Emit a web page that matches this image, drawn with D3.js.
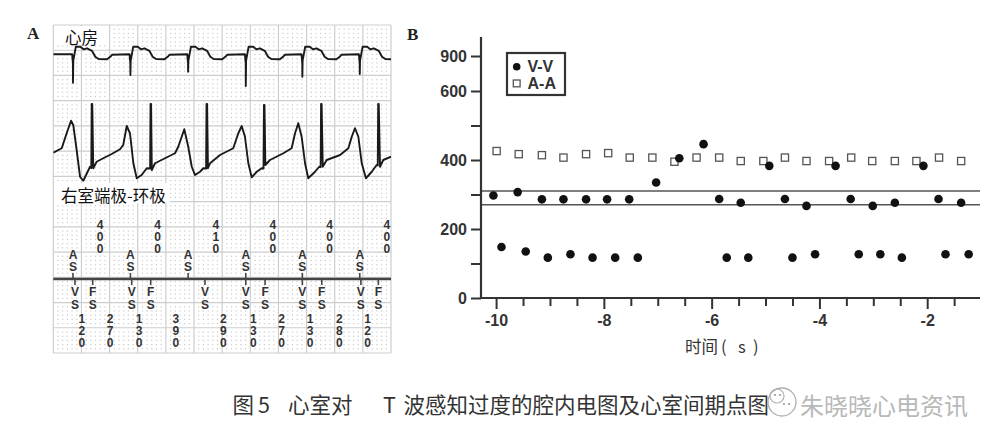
<!DOCTYPE html>
<html><head><meta charset="utf-8">
<script src="https://cdn.jsdelivr.net/npm/d3@7"></script>
<style>body{margin:0;background:#fff} svg{display:block}
.vt{writing-mode:vertical-rl;text-orientation:upright;letter-spacing:-2px}</style>
</head><body>
<svg id="c" width="1000" height="446"></svg>
<script>
// ================= Panel B data =================
const yTickValues = [0, 100, 200, 300, 400, 500, 600, 900];
const yTickLabels = [0, 200, 400, 600, 900];
const xTickLabels = [-10, -8, -6, -4, -2];
const refLines = [310, 270];
const legendLabels = ["V-V", "A-A"];
const axisTitle = ["时间", "(", "s", ")"];

const vvTime = [-10.05, -9.90, -9.60, -9.45, -9.15, -9.04, -8.75, -8.62, -8.33, -8.21, -7.94, -7.79, -7.53, -7.37,
  -7.03, -6.60, -6.15, -5.86, -5.72, -5.46, -5.32, -4.93, -4.64, -4.50, -4.24, -4.08, -3.70, -3.42, -3.27,
  -3.01, -2.87, -2.60, -2.47, -2.07, -1.79, -1.66, -1.37, -1.23];
const vvValue = [297, 148, 307, 135, 286, 117, 286, 127, 286, 117, 286, 117, 286, 117,
  335, 405, 446, 287, 117, 276, 117, 383, 287, 117, 267, 127, 383, 287, 127,
  267, 127, 276, 117, 383, 287, 127, 276, 127];

const aaTime = [-9.99, -9.58, -9.15, -8.75, -8.33, -7.92, -7.52, -7.10, -6.69, -6.28, -5.86, -5.46, -5.04, -4.64,
  -4.24, -3.82, -3.41, -3.02, -2.60, -2.20, -1.78, -1.37];
const aaValue = [426, 417, 414, 407, 417, 420, 407, 407, 395, 407, 407, 397, 397, 407,
  397, 397, 407, 397, 397, 397, 407, 397];

// ================= Panel A data =================
const ecgLabels = ["心房", "右室端极-环极"];
const aEvents = [140, 548, 958, 1368, 1770, 2178];            // AS marker times (ms)
const aaIntervals = ["400", "400", "410", "400", "400", "400"];
const atrialDepth = [-1.14, -0.83, -0.70, -1.27, -0.90, -0.79]; // spike depth per beat (mV)
// atrial complex shape: offset (ms) from AS, amplitude (mV); null = spike depth
const atrialShapeT = [-6, -2, -1, 0, 2, 20, 52, 75, 100, 135, 158, 182, 242, 265, 277];
const atrialShapeV = [0, -0.28, -0.05, null, -0.25, 0.30, 0.30, 0.20, 0.24, 0.14, -0.10, -0.19, -0.20, -0.10, -0.02];

const vEventT = [154, 280, 557, 692, 1078, 1368, 1505, 1770, 1908, 2186, 2310];
const vEventType = ["VS", "FS", "VS", "FS", "VS", "VS", "FS", "VS", "FS", "VS", "FS"];
const vvIntervals = ["120", "270", "130", "390", "290", "130", "270", "130", "280", "120"];

const venT = [0, 60, 95, 126, 142, 166, 190, 213, 244, 261, 270, 273, 277, 284, 308, 355, 415, 474, 497, 522, 545, 569, 593, 628, 664,
  688, 691, 695, 700, 723, 794, 865, 888, 931, 959, 984, 1007, 1043, 1066, 1086, 1089, 1093, 1099, 1114, 1185, 1279, 1315, 1339,
  1362, 1386, 1410, 1446, 1481, 1494, 1497, 1501, 1507, 1540, 1635, 1694, 1718, 1741, 1765, 1789, 1812, 1860, 1890, 1900, 1903,
  1907, 1915, 1943, 2038, 2097, 2121, 2144, 2168, 2192, 2222, 2263, 2298, 2306, 2309, 2313, 2322, 2345, 2400];
const venV = [-0.11, 0.07, 0.67, 1.17, 1.00, 0.00, -1.07, -1.23, -0.87, -0.67, -0.72, 1.84, 1.84, -0.73, -0.47, -0.33, -0.16, 0.03, 0.20, 0.96, 0.67, -0.53, -1.13, -1.00, -0.73,
  -0.74, 1.84, 1.84, -0.80, -0.53, -0.33, -0.13, 0.13, 0.83, 0.13, -0.67, -1.00, -0.87, -0.73, -0.74, 1.84, 1.84, -0.73, -0.53, -0.20, 0.07, 0.67, 0.96,
  0.53, -0.53, -1.09, -0.87, -0.73, -0.74, 1.80, 1.80, -0.60, -0.40, -0.13, 0.07, 0.67, 1.07, 0.53, -0.53, -1.13, -0.87, -0.67, -0.68, 1.84,
  1.84, -0.67, -0.40, -0.20, 0.07, 0.53, 0.87, 0.53, -0.53, -1.13, -0.87, -0.60, -0.62, 1.84, 1.84, -0.67, -0.40, -0.27];

const caption = ["图", "5", "心室对", "T", "波感知过度的腔内电图及心室间期点图"];
const watermark = "朱晓晓心电资讯";

// ================= Drawing =================
const svg = d3.select("#c");
const LAT = "'Liberation Sans', Arial, sans-serif";
const CJK = "'Noto Sans CJK SC', sans-serif";

// ---------- Panel A ----------
const gA = svg.append("g");
const ecgX = d3.scaleLinear().domain([0, 2400]).range([53.3, 391]);
const rowY = d3.scaleLinear().domain([0, 13]).range([25, 353]);
const atrY = d3.scaleLinear().domain([-1, 1]).range([79.3, 29.3]);
const venY = d3.scaleLinear().domain([-1, 1]).range([175, 125]);

// dots
const dots = [];
for (let c = 0; c < 12; c++) for (let r = 0; r < 13; r++)
  for (let i = 1; i <= 5; i++) for (let j = 1; j <= 5; j++)
    dots.push([ecgX(c * 200 + i * 200 / 6), rowY(r + j / 6)]);
gA.append("g").selectAll("rect").data(dots).join("rect")
  .attr("x", d => d[0] - 0.6).attr("y", d => d[1] - 0.6)
  .attr("width", 1.2).attr("height", 1.2).attr("fill", "#c9c9c9");
// major grid
gA.append("g").selectAll("line").data(d3.range(0, 2401, 200)).join("line")
  .attr("x1", d => ecgX(d)).attr("x2", d => ecgX(d))
  .attr("y1", rowY(0)).attr("y2", rowY(13))
  .attr("stroke", "#cdcdcd").attr("stroke-width", 1.2);
gA.append("g").selectAll("line").data(d3.range(0, 14)).join("line")
  .attr("x1", ecgX(0)).attr("x2", ecgX(2400))
  .attr("y1", d => rowY(d)).attr("y2", d => rowY(d))
  .attr("stroke", "#cdcdcd").attr("stroke-width", 1.2);

// label boxes
gA.append("rect").attr("x", 54).attr("y", 26).attr("width", 55).attr("height", 19).attr("fill", "#fff");
gA.append("rect").attr("x", 54).attr("y", 183).attr("width", 116).attr("height", 20).attr("fill", "#fff");
gA.append("text").attr("x", 65).attr("y", 37).attr("dominant-baseline", "central")
  .attr("font-family", CJK).attr("font-size", 16.5).attr("fill", "#111").text(ecgLabels[0]);
gA.append("text").attr("x", 61).attr("y", 194.5).attr("dominant-baseline", "central")
  .attr("font-family", CJK).attr("font-size", 16.5).attr("fill", "#111").text(ecgLabels[1]);

// traces
svg.append("clipPath").attr("id", "ecgclip").append("rect")
  .attr("x", ecgX(0)).attr("y", rowY(0)).attr("width", ecgX(2400) - ecgX(0)).attr("height", rowY(13) - rowY(0));
const atrPts = [[0, 0]];
aEvents.forEach((t, k) => {
  atrialShapeT.forEach((dt, i) => atrPts.push([t + dt, atrialShapeV[i] === null ? atrialDepth[k] : atrialShapeV[i]]));
});
atrPts.push([2500, 0]);
const lineA = d3.line().x(d => ecgX(d[0])).y(d => atrY(d[1]));
gA.append("path").attr("clip-path", "url(#ecgclip)").attr("d", lineA(atrPts))
  .attr("fill", "none").attr("stroke", "#1a1a1a").attr("stroke-width", 1.9).attr("stroke-linejoin", "round");
const venPts = venT.map((t, i) => [t, venV[i]]);
const lineV = d3.line().x(d => ecgX(d[0])).y(d => venY(d[1]));
gA.append("path").attr("clip-path", "url(#ecgclip)").attr("d", lineV(venPts))
  .attr("fill", "none").attr("stroke", "#1a1a1a").attr("stroke-width", 1.9).attr("stroke-linejoin", "round");

// marker channel
const markY = 279;
gA.append("line").attr("x1", ecgX(0)).attr("x2", ecgX(2400)).attr("y1", markY).attr("y2", markY)
  .attr("stroke", "#444").attr("stroke-width", 2.6);
const mk = gA.append("g").attr("font-family", LAT).attr("font-weight", "bold").attr("font-size", 12)
  .attr("fill", "#333");
// vertically stacked characters: one vertical text element per label
function stack(x, chars, yCenter0, step) {
  mk.append("text").attr("class", "vt").attr("x", x).attr("y", yCenter0 - 5)
    .style("letter-spacing", (step - 12) + "px").text(chars);
}
aEvents.forEach((t, k) => {
  gA.append("line").attr("x1", ecgX(t)).attr("x2", ecgX(t)).attr("y1", markY - 6).attr("y2", markY)
    .attr("stroke", "#444").attr("stroke-width", 1.6);
  stack(ecgX(t), "AS", 252.7, 10.6);
  stack(ecgX(t + (+aaIntervals[k]) / 2) - 1, aaIntervals[k], 222.7, 10.3);
});
vEventT.forEach((t, k) => {
  gA.append("line").attr("x1", ecgX(t)).attr("x2", ecgX(t)).attr("y1", markY).attr("y2", markY + 6)
    .attr("stroke", "#444").attr("stroke-width", 1.6);
  stack(ecgX(t), vEventType[k], 290, 10.7);
});
vvIntervals.forEach((v, k) => {
  stack(ecgX((vEventT[k] + vEventT[k + 1]) / 2) - 2, v, 316.7, 10);
});

// panel letters
svg.append("text").attr("x", 27).attr("y", 39).attr("font-family", "'Liberation Serif', serif")
  .attr("font-weight", "bold").attr("font-size", 17).attr("fill", "#222").text("A");
svg.append("text").attr("x", 407).attr("y", 40).attr("font-family", "'Liberation Serif', serif")
  .attr("font-weight", "bold").attr("font-size", 17).attr("fill", "#222").text("B");

// ---------- Panel B ----------
const gB = svg.append("g");
const xB = d3.scaleLinear().domain([-10.28, -1.02]).range([481, 980]);
const yB = d3.scaleLinear().domain([0, 600, 900]).range([298, 91, 56]);

// reference lines
gB.selectAll(".ref").data(refLines).join("line")
  .attr("x1", xB(-10.28)).attr("x2", xB(-1.02))
  .attr("y1", d => yB(d)).attr("y2", d => yB(d))
  .attr("stroke", "#555").attr("stroke-width", 1.5);

// y axis
const yAx = gB.append("g").attr("transform", `translate(${xB(-10.28)},0)`)
  .call(d3.axisLeft(yB).tickValues(yTickValues).tickSize(10).tickPadding(4)
    .tickFormat(d => yTickLabels.includes(d) ? d : ""));
yAx.select(".domain").remove();
yAx.selectAll("line").attr("stroke", "#333").attr("stroke-width", 2);
yAx.selectAll("text").attr("font-family", LAT).attr("font-weight", "bold").attr("font-size", 16).attr("fill", "#333");
gB.append("line").attr("x1", xB(-10.28)).attr("x2", xB(-10.28)).attr("y1", 37).attr("y2", yB(0) + 1)
  .attr("stroke", "#333").attr("stroke-width", 2.2);

// x axis
const xTickVals = d3.range(-20, -2).map(d => d / 2);
const xAx = gB.append("g").attr("transform", `translate(0,${yB(0)})`)
  .call(d3.axisBottom(xB).tickValues(xTickVals).tickSize(9).tickPadding(8)
    .tickFormat(d => xTickLabels.includes(d) ? String(d).replace("−", "-") : ""));
xAx.select(".domain").remove();
xAx.selectAll("line").attr("stroke", "#333").attr("stroke-width", 2)
  .attr("y2", d => xTickLabels.includes(d) ? 11 : 8);
xAx.selectAll("text").attr("font-family", LAT).attr("font-weight", "bold").attr("font-size", 16).attr("fill", "#333");
gB.append("line").attr("x1", xB(-10.28) - 1).attr("x2", xB(-1.02)).attr("y1", yB(0)).attr("y2", yB(0))
  .attr("stroke", "#333").attr("stroke-width", 2.2);

// axis title
const tt = gB.append("text").attr("y", 346).attr("dominant-baseline", "central")
  .attr("font-family", CJK).attr("font-size", 16.5).attr("fill", "#333");
[685, 721, 738, 753].forEach((x, i) => tt.append("tspan").attr("x", x).text(axisTitle[i]));

// points
gB.selectAll(".aa").data(aaTime.map((t, i) => [t, aaValue[i]])).join("rect")
  .attr("x", d => xB(d[0]) - 3.6).attr("y", d => yB(d[1]) - 3.6)
  .attr("width", 7.2).attr("height", 7.2)
  .attr("fill", "#fff").attr("stroke", "#555").attr("stroke-width", 1.3);
gB.selectAll(".vv").data(vvTime.map((t, i) => [t, vvValue[i]])).join("circle")
  .attr("cx", d => xB(d[0])).attr("cy", d => yB(d[1])).attr("r", 4.3).attr("fill", "#111");

// legend
const lg = gB.append("g");
lg.append("rect").attr("x", 507).attr("y", 53).attr("width", 58).attr("height", 42)
  .attr("fill", "#fff").attr("stroke", "#333").attr("stroke-width", 2.2);
lg.append("circle").attr("cx", 516.7).attr("cy", 66.7).attr("r", 3.8).attr("fill", "#111");
lg.append("rect").attr("x", 513.3).attr("y", 80).attr("width", 6.8).attr("height", 6.8)
  .attr("fill", "#fff").attr("stroke", "#555").attr("stroke-width", 1.3);
legendLabels.forEach((l, i) => lg.append("text").attr("x", 527.5).attr("y", 66.7 + i * 16.6)
  .attr("dominant-baseline", "central").attr("font-family", LAT).attr("font-weight", "bold")
  .attr("font-size", 16).attr("fill", "#333").text(l));

// ---------- caption ----------
const cap = svg.append("text").attr("y", 403).attr("dominant-baseline", "central")
  .attr("font-family", CJK).attr("font-size", 21.5).attr("fill", "#333");
[232.5, 258, 288, 383, 403.5].forEach((x, i) => cap.append("tspan").attr("x", x).text(caption[i]));

// watermark
const wm = svg.append("g");
wm.append("circle").attr("cx", 782).attr("cy", 402).attr("r", 14)
  .attr("fill", "rgba(255,255,255,0.85)").attr("stroke", "#b0b0b0").attr("stroke-width", 1.3);
wm.append("circle").attr("cx", 777).attr("cy", 396).attr("r", 7)
  .attr("fill", "none").attr("stroke", "#b0b0b0").attr("stroke-width", 1.2);
wm.append("circle").attr("cx", 775).attr("cy", 395).attr("r", 1.1).attr("fill", "#999");
wm.append("circle").attr("cx", 780).attr("cy", 395).attr("r", 1.1).attr("fill", "#999");
wm.append("circle").attr("cx", 784).attr("cy", 404).attr("r", 1.1).attr("fill", "#999");
wm.append("circle").attr("cx", 789).attr("cy", 404).attr("r", 1.1).attr("fill", "#999");
svg.append("text").attr("x", 800).attr("y", 404).attr("dominant-baseline", "central")
  .attr("font-family", CJK).attr("font-size", 24).attr("fill", "#b8b8b8").text(watermark);
</script>
</body></html>
